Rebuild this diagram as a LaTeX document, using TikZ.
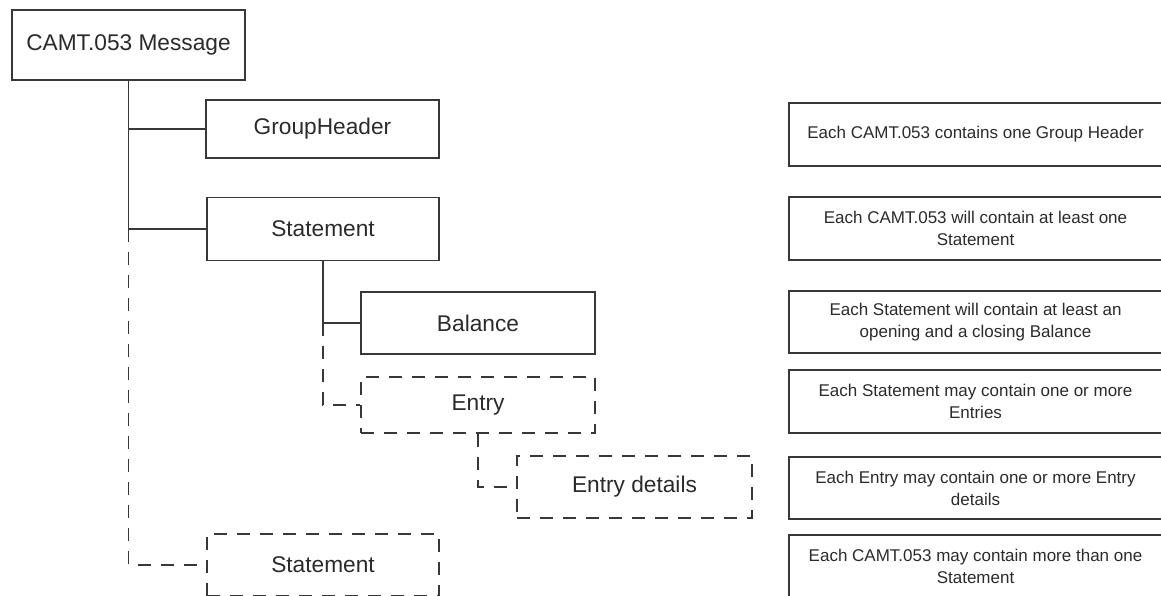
\documentclass[tikz,border=0pt]{standalone}
\usepackage{fontspec}
\setmainfont{Liberation Sans}
\usepackage{xcolor}
\usepackage{tikz}
\usetikzlibrary{shapes}
\usetikzlibrary{arrows}
\definecolor{linegray}{HTML}{383838}
\definecolor{textgray}{HTML}{2B2B2B}
\tikzset{
	main node/.style={rectangle,draw=linegray,line width=1.7pt,fill=white,text=textgray,
		inner sep=0pt,font=\fontsize{22.7}{27}\selectfont},
	opt node/.style={main node,dash pattern=on 13pt off 10pt},
	note node/.style={rectangle,draw=linegray,line width=1.7pt,fill=white,text=textgray,
		align=center,inner sep=0pt,minimum width=373pt,font=\fontsize{17}{22}\selectfont},
	tree line/.style={draw=linegray,line width=1.7pt},
	opt line/.style={tree line,dash pattern=on 13pt off 10pt}
}

\begin{document}
\begin{tikzpicture}[x=1pt,y=-1pt]
	\useasboundingbox (0,0) rectangle (1161,596);
	\clip (0,0) rectangle (1161,596);
	\node [main node,minimum width=233pt,minimum height=70pt] (msg) at (128.5,45) {CAMT.053 Message};
	\node [main node,minimum width=233pt,minimum height=58pt] (grp) at (322.5,129) {GroupHeader};
	\node [main node,minimum width=232pt,minimum height=63pt] (stmt) at (323,229) {Statement};
	\node [main node,minimum width=234pt,minimum height=62pt] (bal) at (478,323) {Balance};
	\node [opt node,minimum width=234pt,minimum height=56pt] (entry) at (478,405) {Entry};
	\node [opt node,minimum width=235pt,minimum height=62pt] (det) at (634.5,487) {Entry details};
	\node [opt node,minimum width=232pt,minimum height=62pt] (stmtb) at (323,565) {Statement};

	\node [note node,minimum height=63pt] (n1) at (975.5,134.5) {Each CAMT.053 contains one Group Header};
	\node [note node,minimum height=63pt] (n2) at (975.5,228.5) {Each CAMT.053 will contain at least one\\Statement};
	\node [note node,minimum height=62pt] (n3) at (975.5,322) {Each Statement will contain at least an\\opening and a closing Balance};
	\node [note node,minimum height=63pt] (n4) at (975.5,401.5) {Each Statement may contain one or more\\Entries};
	\node [note node,minimum height=62pt] (n5) at (975.5,488) {Each Entry may contain one or more Entry\\details};
	\node [note node,minimum height=63pt] (n6) at (975.5,566.5) {Each CAMT.053 may contain more than one\\Statement};

	\path [tree line] (msg.south) |- (grp.west);
	\path [tree line] (msg.south) |- (stmt.west);
	\path [opt line] (msg.south |- stmt.west) |- (stmtb.west);
	\path [tree line] (stmt.south) |- (bal.west);
	\path [opt line] (stmt.south |- bal.west) |- (entry.west);
	\path [opt line] (entry.south) |- (det.west);
\end{tikzpicture}
\end{document}
